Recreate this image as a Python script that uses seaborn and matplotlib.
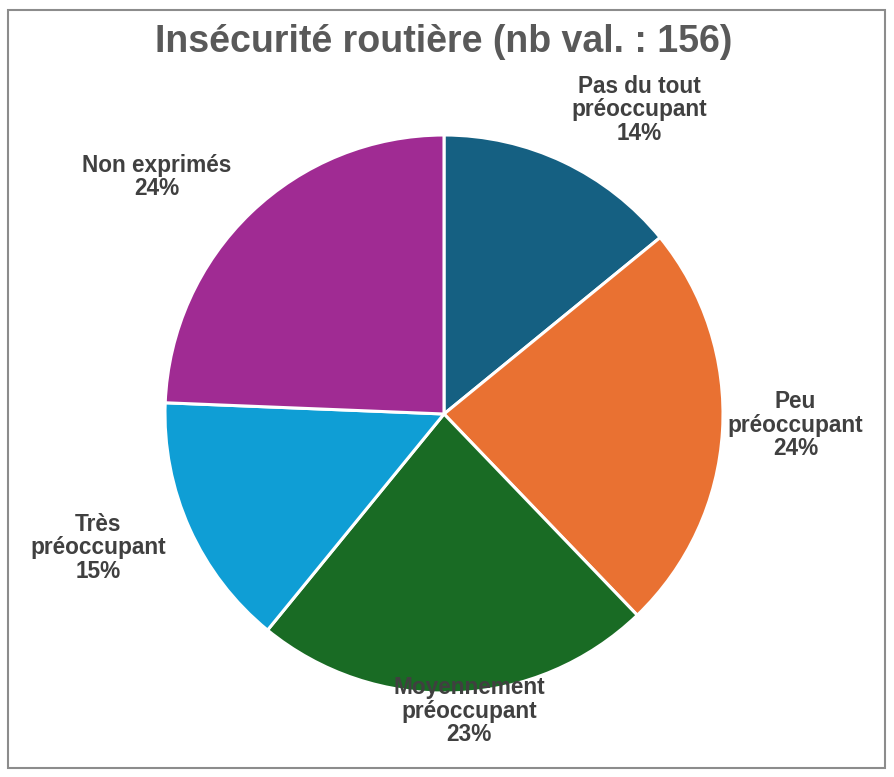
import matplotlib
matplotlib.use("Agg")
import matplotlib.pyplot as plt
import seaborn as sns
from matplotlib.patches import Rectangle

categories = ["Pas du tout\npréoccupant", "Peu\npréoccupant", "Moyennement\npréoccupant",
              "Très\npréoccupant", "Non exprimés"]
counts = [22, 37, 36, 23, 38]
colors = ["#156082", "#E97132", "#196B24", "#0F9ED5", "#A02B93"]
title = "Insécurité routière (nb val. : 156)"

# label anchor positions (relative to pie radius)
label_pos = [(0.70, 1.09), (1.26, -0.04), (0.09, -1.065), (-1.24, -0.48), (-1.03, 0.85)]

sns.set_theme(style="white")
plt.rcParams['font.family'] = ['Liberation Sans', 'DejaVu Sans']

W, H = 894, 777
fig = plt.figure(figsize=(W / 100, H / 100), dpi=100)
fig.patch.set_facecolor("white")

cx, cy, r = 444, 414, 279
ax = fig.add_axes([(cx - r) / W, (H - cy - r) / H, 2 * r / W, 2 * r / H])
ax.pie(counts, colors=colors, startangle=90, counterclock=False, radius=1,
       wedgeprops=dict(edgecolor="white", linewidth=2.2))
ax.set_xlim(-1, 1)
ax.set_ylim(-1, 1)
ax.set_aspect("auto")
ax.axis("off")

total = sum(counts)
for cat, c, (x, y) in zip(categories, counts, label_pos):
    pct = round(100 * c / total)
    ax.text(x, y, f"{cat}\n{pct}%", ha="center", va="center", fontsize=16.3,
            fontweight="bold", color="#404040", linespacing=1.02, clip_on=False, zorder=5)

fig.text(444 / W, 1 - 42 / H, title, ha="center", va="center", fontsize=27,
         fontweight="bold", color="#595959")

fig.patches.append(Rectangle((8 / W, 1 - 768 / H), (885 - 8) / W, (768 - 10) / H,
                             transform=fig.transFigure, fill=False,
                             edgecolor="#8C8C8C", linewidth=1.5))

fig.savefig("out.png", dpi=100)
